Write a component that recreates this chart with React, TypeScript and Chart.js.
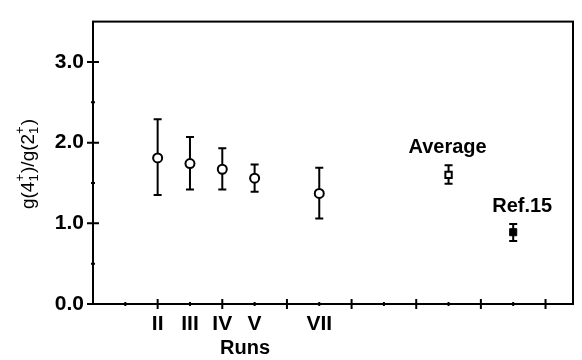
import React, { useEffect, useRef } from 'react';
import { Chart, registerables } from 'chart.js';
Chart.register(...registerables);

// ---- data ----
const runLabels = ['II', 'III', 'IV', 'V', 'VII'];
const runX = [2, 3, 4, 5, 7];
const runY = [1.81, 1.74, 1.67, 1.56, 1.37];
const runHigh = [2.29, 2.07, 1.93, 1.73, 1.69];
const runLow = [1.35, 1.42, 1.42, 1.39, 1.06];

const avgLabel = 'Average';
const avgX = [11];
const avgY = [1.6];
const avgHigh = [1.72];
const avgLow = [1.49];

const refLabel = 'Ref.15';
const refX = [13];
const refY = [0.89];
const refHigh = [0.99];
const refLow = [0.78];

const yTickValues = [0, 1, 2, 3];
const yMinorValues = [0.5, 1.5, 2.5];
const xMajorValues = [2, 4, 6, 8, 10, 12, 14];
const xMinorValues = [1, 3, 5, 7, 9, 11, 13];
const xTitle = 'Runs';

const FONT = '"Liberation Sans", Arial, Helvetica, sans-serif';

const toPts = (xs: number[], ys: number[]) => xs.map((x, i) => ({ x, y: ys[i] }));

const drawPlugin = {
  id: 'customDraw',
  beforeDatasetsDraw(chart: any) {
    const ctx = chart.ctx;
    const ys = chart.scales.y;
    ctx.save();
    ctx.strokeStyle = '#000';
    ctx.lineWidth = 2;
    chart.data.datasets.forEach((ds: any, i: number) => {
      const meta = chart.getDatasetMeta(i);
      meta.data.forEach((pt: any, j: number) => {
        const x = pt.x;
        const yh = ys.getPixelForValue(ds.high[j]);
        const yl = ys.getPixelForValue(ds.low[j]);
        ctx.beginPath();
        ctx.moveTo(x, yh);
        ctx.lineTo(x, yl);
        ctx.moveTo(x - 4, yh);
        ctx.lineTo(x + 4, yh);
        ctx.moveTo(x - 4, yl);
        ctx.lineTo(x + 4, yl);
        ctx.stroke();
      });
    });
    ctx.restore();
  },
  afterDraw(chart: any) {
    const ctx = chart.ctx;
    const { left, right, top, bottom } = chart.chartArea;
    const xs = chart.scales.x;
    const ys = chart.scales.y;
    ctx.save();
    ctx.strokeStyle = '#000';
    ctx.lineWidth = 2;
    ctx.strokeRect(left, top, right - left, bottom - top);
    // ticks
    ctx.beginPath();
    yTickValues.forEach((v) => {
      const y = ys.getPixelForValue(v);
      ctx.moveTo(left - 6, y);
      ctx.lineTo(left + 6, y);
    });
    yMinorValues.forEach((v) => {
      const y = ys.getPixelForValue(v);
      ctx.moveTo(left - 2, y);
      ctx.lineTo(left + 2, y);
    });
    xMajorValues.forEach((v) => {
      const x = xs.getPixelForValue(v);
      ctx.moveTo(x, bottom - 5);
      ctx.lineTo(x, bottom + 5);
    });
    xMinorValues.forEach((v) => {
      const x = xs.getPixelForValue(v);
      ctx.moveTo(x, bottom - 2);
      ctx.lineTo(x, bottom + 2);
    });
    ctx.stroke();

    // annotation labels
    ctx.fillStyle = '#000';
    ctx.font = `bold 20px ${FONT}`;
    ctx.textAlign = 'center';
    ctx.textBaseline = 'middle';
    ctx.fillText(avgLabel, xs.getPixelForValue(avgX[0]) - 1, ys.getPixelForValue(avgHigh[0]) - 18);
    ctx.fillText(refLabel, xs.getPixelForValue(refX[0]) + 9, ys.getPixelForValue(refHigh[0]) - 18);

    // x title
    ctx.font = `bold 20px ${FONT}`;
    ctx.fillText(xTitle, 245, 348);

    // y title with sub/superscripts
    ctx.translate(34, 164);
    ctx.rotate(-Math.PI / 2);
    const mainF = `19px ${FONT}`;
    const smallF = `13px ${FONT}`;
    const parts: any[] = [
      { t: 'g(4' },
      { sub: '1', sup: '+' },
      { t: ')/g(2' },
      { sub: '1', sup: '+' },
      { t: ')' },
    ];
    const widths = parts.map((p) => {
      if (p.t) {
        ctx.font = mainF;
        return ctx.measureText(p.t).width;
      }
      ctx.font = smallF;
      return Math.max(ctx.measureText(p.sub).width, ctx.measureText(p.sup).width) + 1;
    });
    const total = widths.reduce((a, b) => a + b, 0);
    let cx = -total / 2;
    ctx.textAlign = 'left';
    ctx.textBaseline = 'alphabetic';
    parts.forEach((p, i) => {
      if (p.t) {
        ctx.font = mainF;
        ctx.fillText(p.t, cx, 0);
      } else {
        ctx.font = smallF;
        ctx.fillText(p.sub, cx, 4);
        ctx.fillText(p.sup, cx, -10);
      }
      cx += widths[i];
    });
    ctx.restore();
  },
};

export default function App() {
  const ref = useRef<HTMLCanvasElement>(null);
  useEffect(() => {
    document.body.style.margin = '0';
    const chart = new Chart(ref.current as HTMLCanvasElement, {
      type: 'scatter',
      data: {
        datasets: [
          {
            label: 'Runs',
            data: toPts(runX, runY),
            high: runHigh,
            low: runLow,
            pointStyle: 'circle',
            pointRadius: 4.5,
            pointBackgroundColor: '#fff',
            pointBorderColor: '#000',
            pointBorderWidth: 2,
          } as any,
          {
            label: avgLabel,
            data: toPts(avgX, avgY),
            high: avgHigh,
            low: avgLow,
            pointStyle: 'rect',
            pointRadius: 4.5,
            pointBackgroundColor: '#fff',
            pointBorderColor: '#000',
            pointBorderWidth: 2,
          } as any,
          {
            label: refLabel,
            data: toPts(refX, refY),
            high: refHigh,
            low: refLow,
            pointStyle: 'rect',
            pointRadius: 5,
            pointBackgroundColor: '#000',
            pointBorderColor: '#000',
            pointBorderWidth: 1,
          } as any,
        ],
      },
      options: {
        responsive: false,
        animation: false,
        layout: { padding: { left: 0, top: 7, right: 9, bottom: 0 } },
        plugins: { legend: { display: false }, tooltip: { enabled: false } },
        scales: {
          x: {
            type: 'linear',
            min: 0,
            max: 14.85,
            grid: { display: false, drawTicks: false },
            border: { display: false },
            afterFit: (s: any) => {
              s.height = 56;
            },
            afterBuildTicks: (s: any) => {
              s.ticks = runX.map((v) => ({ value: v }));
            },
            ticks: {
              autoSkip: false,
              maxRotation: 0,
              padding: 8,
              color: '#000',
              font: { family: FONT, size: 21, weight: 'bold' },
              callback: (v: any) => {
                const i = runX.indexOf(Number(v));
                return i >= 0 ? runLabels[i] : '';
              },
            },
          },
          y: {
            type: 'linear',
            min: 0,
            max: 3.5,
            grid: { display: false, drawTicks: false },
            border: { display: false },
            afterFit: (s: any) => {
              s.width = 93;
            },
            afterBuildTicks: (s: any) => {
              s.ticks = yTickValues.map((v) => ({ value: v }));
            },
            ticks: {
              padding: 9,
              color: '#000',
              font: { family: FONT, size: 21, weight: 'bold' },
              callback: (v: any) => Number(v).toFixed(1),
            },
          },
        },
      },
      plugins: [drawPlugin],
    });
    return () => chart.destroy();
  }, []);
  return (
    <div style={{ position: 'absolute', left: 0, top: 0, width: 582, height: 360, background: '#fff' }}>
      <canvas ref={ref} width={582} height={360} />
    </div>
  );
}
